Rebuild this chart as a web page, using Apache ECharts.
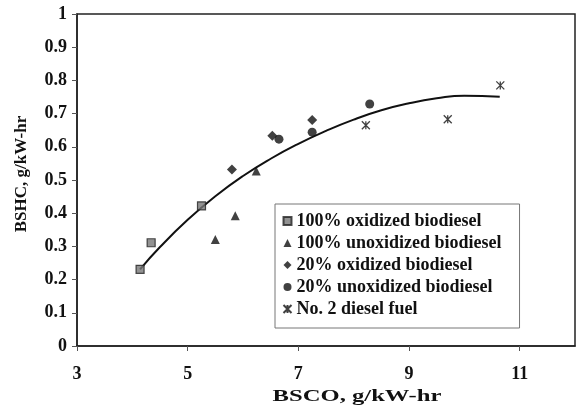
<!DOCTYPE html>
<html>
<head>
<meta charset="utf-8">
<script src="https://cdn.jsdelivr.net/npm/echarts@6/dist/echarts.min.js"></script>
<style>html,body{margin:0;padding:0;background:#fff}#c{width:577px;height:415px}</style>
</head>
<body>
<div id="c"></div>
<script>
const seriesNames = ['100% oxidized biodiesel','100% unoxidized biodiesel','20% oxidized biodiesel','20% unoxidized biodiesel','No. 2 diesel fuel'];
const ox100 = [[4.14,0.231],[4.34,0.311],[5.25,0.422]];
const unox100 = [[5.50,0.321],[5.86,0.392],[6.24,0.527]];
const ox20 = [[5.80,0.532],[6.53,0.633],[7.25,0.681]];
const unox20 = [[6.65,0.623],[7.25,0.644],[8.29,0.729]];
const diesel = [[8.22,0.665],[9.70,0.683],[10.65,0.785]];
const trend = [[4.14,0.231],[4.5,0.298],[5,0.38],[5.5,0.451],[6,0.512],[6.5,0.564],[7,0.609],[7.5,0.648],[8,0.682],[8.5,0.71],[9,0.731],[9.5,0.746],[10,0.754],[10.64,0.751]];
const xTicks = [3,5,7,9,11];
const xTitle = 'BSCO, g/kW-hr';
const yTitle = 'BSHC, g/kW-hr';

const font = '"Liberation Serif","Times New Roman",serif';
const star = 'path://M0,0L10,10M10,0L0,10M5,0L5,10';
const chart = echarts.init(document.getElementById('c'));
chart.setOption({
  animation: false,
  backgroundColor: '#fff',
  grid: {left: 77, right: 2, top: 14, bottom: 69, show: true, borderColor: '#222', borderWidth: 1.5,
         backgroundColor: 'transparent', containLabel: false, outerBoundsMode: 'none'},
  xAxis: {
    type: 'value', min: 3, max: 12,
    axisLine: {show: true, lineStyle: {color: '#222', width: 1.5}},
    axisTick: {show: true, length: 5, customValues: xTicks, lineStyle: {color: '#555'}},
    axisLabel: {customValues: xTicks, fontFamily: font, fontWeight: 'bold', fontSize: 18, color: '#111', margin: 19},
    splitLine: {show: false}
  },
  yAxis: {
    type: 'value', min: 0, max: 1, interval: 0.1,
    name: yTitle, nameLocation: 'middle', nameGap: 47, nameMoveOverlap: false,
    nameTextStyle: {fontFamily: font, fontWeight: 'bold', fontSize: 17, color: '#111', padding: [0,0,0,12]},
    axisLine: {show: true, lineStyle: {color: '#222', width: 1.5}},
    axisTick: {show: true, length: 5, lineStyle: {color: '#555'}},
    axisLabel: {fontFamily: font, fontWeight: 'bold', fontSize: 18, color: '#111', margin: 10,
      formatter: v => String(Math.round(v*10)/10)},
    splitLine: {show: false}
  },
  graphic: [{
    type: 'text', x: 357, y: 397, scaleX: 1.45,
    style: {text: xTitle, font: 'bold 17px ' + font, fill: '#111', align: 'center', verticalAlign: 'middle'}
  }],
  legend: {
    orient: 'vertical', left: 275, top: 204,
    data: seriesNames,
    borderColor: '#777', borderWidth: 1, padding: [8, 18, 10, 6],
    itemWidth: 8, itemHeight: 8, itemGap: 4,
    textStyle: {fontFamily: font, fontWeight: 'bold', fontSize: 18, color: '#111'}
  },
  series: [
    {name: seriesNames[0], type: 'scatter', data: ox100, symbol: 'rect', symbolSize: 8,
     itemStyle: {color: '#777', borderColor: '#222', borderWidth: 1.2}},
    {name: seriesNames[1], type: 'scatter', data: unox100, symbol: 'triangle', symbolSize: 9,
     itemStyle: {color: '#111'}},
    {name: seriesNames[2], type: 'scatter', data: ox20, symbol: 'diamond', symbolSize: 10,
     itemStyle: {color: '#111'}},
    {name: seriesNames[3], type: 'scatter', data: unox20, symbol: 'circle', symbolSize: 9,
     itemStyle: {color: '#111'}},
    {name: seriesNames[4], type: 'scatter', data: diesel, symbol: star, symbolSize: 8,
     itemStyle: {color: 'none', borderColor: '#111', borderWidth: 1.3}},
    {name: 'trend', type: 'line', data: trend, smooth: true, showSymbol: false, silent: true,
     lineStyle: {color: '#111', width: 2}, z: 1}
  ]
});
</script>
</body>
</html>
